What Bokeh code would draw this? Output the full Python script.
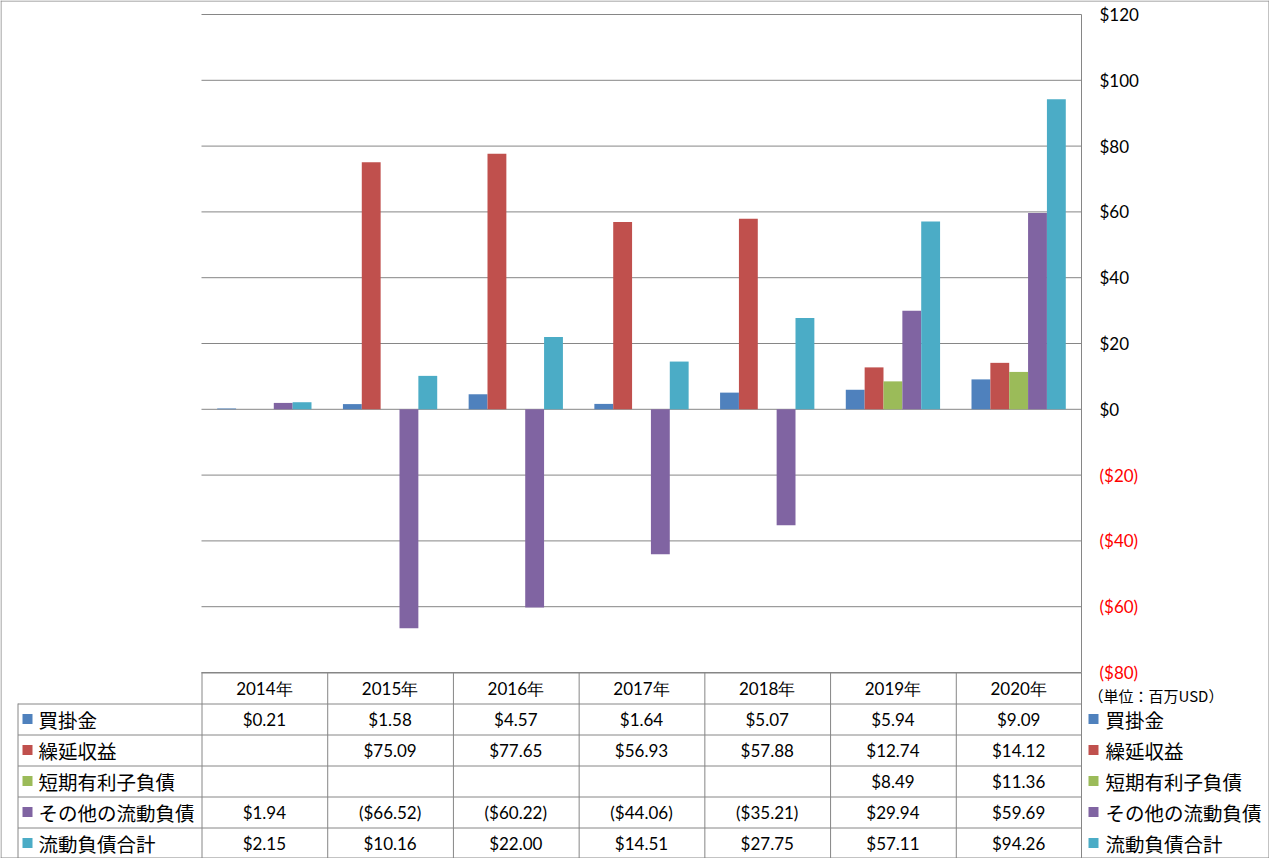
import math
from bokeh.plotting import figure
from bokeh.models import (ColumnDataSource, Range1d, LinearAxis, FixedTicker, LinearScale,
                          CustomJSTickFormatter, Whisker, LabelSet, BoxAnnotation, Label)
from bokeh.transform import dodge
from bokeh.core.properties import value
from bokeh.embed import file_html
from bokeh.resources import INLINE

nan = float("nan")

# ---------------- data ----------------
years = ["2014年", "2015年", "2016年", "2017年", "2018年", "2019年", "2020年"]
series_names = ["買掛金", "繰延収益", "短期有利子負債", "その他の流動負債", "流動負債合計"]
accounts_payable = [0.21, 1.58, 4.57, 1.64, 5.07, 5.94, 9.09]
deferred_revenue = [nan, 75.09, 77.65, 56.93, 57.88, 12.74, 14.12]
short_term_debt = [nan, nan, nan, nan, nan, 8.49, 11.36]
other_current = [1.94, -66.52, -60.22, -44.06, -35.21, 29.94, 59.69]
total_current = [2.15, 10.16, 22.00, 14.51, 27.75, 57.11, 94.26]
y_ticks_pos = [0, 20, 40, 60, 80, 100, 120]
y_ticks_neg = [-80, -60, -40, -20]
unit_label = "（単位：百万USD）"

series_values = [accounts_payable, deferred_revenue, short_term_debt, other_current, total_current]
colors = ["#4F81BD", "#C0504D", "#9BBB59", "#8064A2", "#4BACC6"]
keys = ["s0", "s1", "s2", "s3", "s4"]

# ---------------- layout constants (pixels) ----------------
W, H = 1269, 858
PL, PR = 201, 1081          # plot area left / right
PT, PB = 14, 672            # y of top tick / bottom tick
Y_TOP, Y_BOT = 120, -80
CAT = (PR - PL) / 7.0
PPU = (PB - PT) / float(Y_TOP - Y_BOT)
ROW = 31.0
GRID = "#868686"
NUM_FONT = "Lato"
JP_FONT = "Noto Sans CJK JP"


def ux(px):
    # pixel column -> category units (0..7 spans the plot area)
    return (px - PL) / CAT


def yv(py):
    # pixel row -> value units
    return Y_TOP - (py - PT) / PPU


def ry(py):
    # pixel row -> table row units (0 = top of year header row)
    return (py - PB) / ROW


def fmt(v):
    if v is None or (isinstance(v, float) and math.isnan(v)):
        return ""
    if v < 0:
        return "(${:.2f})".format(-v)
    return "${:.2f}".format(v)


data = {"year": years, "xpos": [i + 0.5 for i in range(len(years))]}
for k, vals in zip(keys, series_values):
    data[k] = vals
source = ColumnDataSource(data)

p = figure(width=W, height=H, x_range=Range1d(ux(0), ux(W)), y_range=Range1d(yv(H), yv(0)),
           output_backend="svg", toolbar_location=None,
           x_axis_location=None, y_axis_location="right",
           min_border_left=0, min_border_right=0, min_border_top=0, min_border_bottom=0)
p.outline_line_color = None
p.background_fill_color = "white"
p.border_fill_color = "white"
p.xgrid.visible = False
p.ygrid.visible = False

# horizontal grid lines at the axis ticks, limited to the plot area
all_ticks = y_ticks_neg + y_ticks_pos
p.add_layout(Whisker(source=ColumnDataSource(dict(b=[t for t in all_ticks], l=[0] * len(all_ticks),
                                                  u=[7] * len(all_ticks))),
                     base="b", lower="l", upper="u", dimension="width", level="underlay",
                     line_color=GRID, line_width=1, lower_head=None, upper_head=None))

offsets = [-0.3, -0.15, 0.0, 0.15, 0.3]
for k, off, c in zip(keys, offsets, colors):
    p.vbar(x=dodge("xpos", off), top=k, bottom=0, width=0.15,
           source=source, fill_color=c, line_color=None)

fmt_js = CustomJSTickFormatter(code="return tick < 0 ? '($' + (-tick) + ')' : '$' + tick;")


def style_axis(a, color):
    a.formatter = fmt_js
    a.fixed_location = ux(PR)
    a.bounds = (Y_BOT, Y_TOP)
    a.major_tick_out = 0
    a.major_tick_in = 0
    a.minor_tick_out = 0
    a.minor_tick_in = 0
    a.major_label_standoff = 18
    a.major_label_text_font = NUM_FONT
    a.major_label_text_font_size = "17px"
    a.major_label_text_color = color


ax = p.yaxis[0]
ax.ticker = FixedTicker(ticks=y_ticks_pos)
style_axis(ax, "black")
ax.axis_line_color = GRID

ax2 = LinearAxis(ticker=FixedTicker(ticks=y_ticks_neg))
style_axis(ax2, "#FF0000")
ax2.axis_line_color = None
p.add_layout(ax2, "right")

# ---------------- data table below the chart ----------------
p.extra_y_ranges = {"ty": Range1d(ry(H), ry(0))}
p.extra_y_scales = {"ty": LinearScale()}

hb, hl, hu = [], [], []
hb.append(ry(PB + 0.5)); hl.append(0); hu.append(7)
for k in range(1, 6):
    hb.append(ry(PB + ROW * k + 0.5)); hl.append(ux(17.5)); hu.append(7)
hb += [ry(0.5), ry(H - 0.5)]
hl += [ux(0), ux(0)]
hu += [ux(W), ux(W)]
p.add_layout(Whisker(source=ColumnDataSource(dict(b=hb, l=hl, u=hu)), base="b", lower="l", upper="u",
                     dimension="width", line_color=GRID, line_width=1,
                     lower_head=None, upper_head=None, y_range_name="ty"))

vb, vl, vu = [], [], []
vb.append(ux(17.5)); vl.append(ry(PB + ROW)); vu.append(ry(H))
for i in range(8):
    vb.append(ux(PL + CAT * i) + (0.5 / CAT if i < 7 else 0)); vl.append(0); vu.append(ry(H))
vb += [ux(0.5), ux(W - 0.5)]
vl += [ry(0), ry(0)]
vu += [ry(H), ry(H)]
p.add_layout(Whisker(source=ColumnDataSource(dict(b=vb, l=vl, u=vu)), base="b", lower="l", upper="u",
                     dimension="height", line_color=GRID, line_width=1,
                     lower_head=None, upper_head=None, y_range_name="ty"))

# header years
yr_src = ColumnDataSource(dict(x=data["xpos"], y=[0.5] * len(years), t=years))
p.add_layout(LabelSet(x="x", y="y", text="t", source=yr_src, text_align="center", text_baseline="middle",
                      text_font=value(NUM_FONT), text_font_size="17px", text_color="black",
                      y_range_name="ty"))

# values
vx, vy, vt = [], [], []
for k, vals in enumerate(series_values):
    for i, v in enumerate(vals):
        vx.append(i + 0.5); vy.append(k + 1.5); vt.append(fmt(v))
p.add_layout(LabelSet(x="x", y="y", text="t", source=ColumnDataSource(dict(x=vx, y=vy, t=vt)),
                      text_align="center", text_baseline="middle",
                      text_font=value(NUM_FONT), text_font_size="17px", text_color="black",
                      y_range_name="ty"))

# series names, left and right
nx, ny, nt = [], [], []
for k, name in enumerate(series_names):
    for xpx in (38, 1105):
        nx.append(ux(xpx)); ny.append(k + 1.5); nt.append(name)
p.add_layout(LabelSet(x="x", y="y", text="t", source=ColumnDataSource(dict(x=nx, y=ny, t=nt)),
                      text_align="left", text_baseline="middle",
                      text_font=value(JP_FONT), text_font_size="19.5px", text_color="black",
                      y_range_name="ty"))

# colour squares
SQ = 10
for k, c in enumerate(colors):
    for x0 in (22, 1088):
        cy = PB + ROW * (k + 1) + ROW / 2
        p.add_layout(BoxAnnotation(left=ux(x0), right=ux(x0 + SQ),
                                   top=ry(cy - SQ / 2), bottom=ry(cy + SQ / 2),
                                   fill_color=c, fill_alpha=1, line_color=None,
                                   y_range_name="ty"))

p.add_layout(Label(x=ux(1088), y=ry(695), text=unit_label, text_baseline="middle", text_align="left",
                   text_font=JP_FONT, text_font_size="15px", text_color="black",
                   y_range_name="ty"))

open("out.html", "w").write(file_html(p, INLINE))
